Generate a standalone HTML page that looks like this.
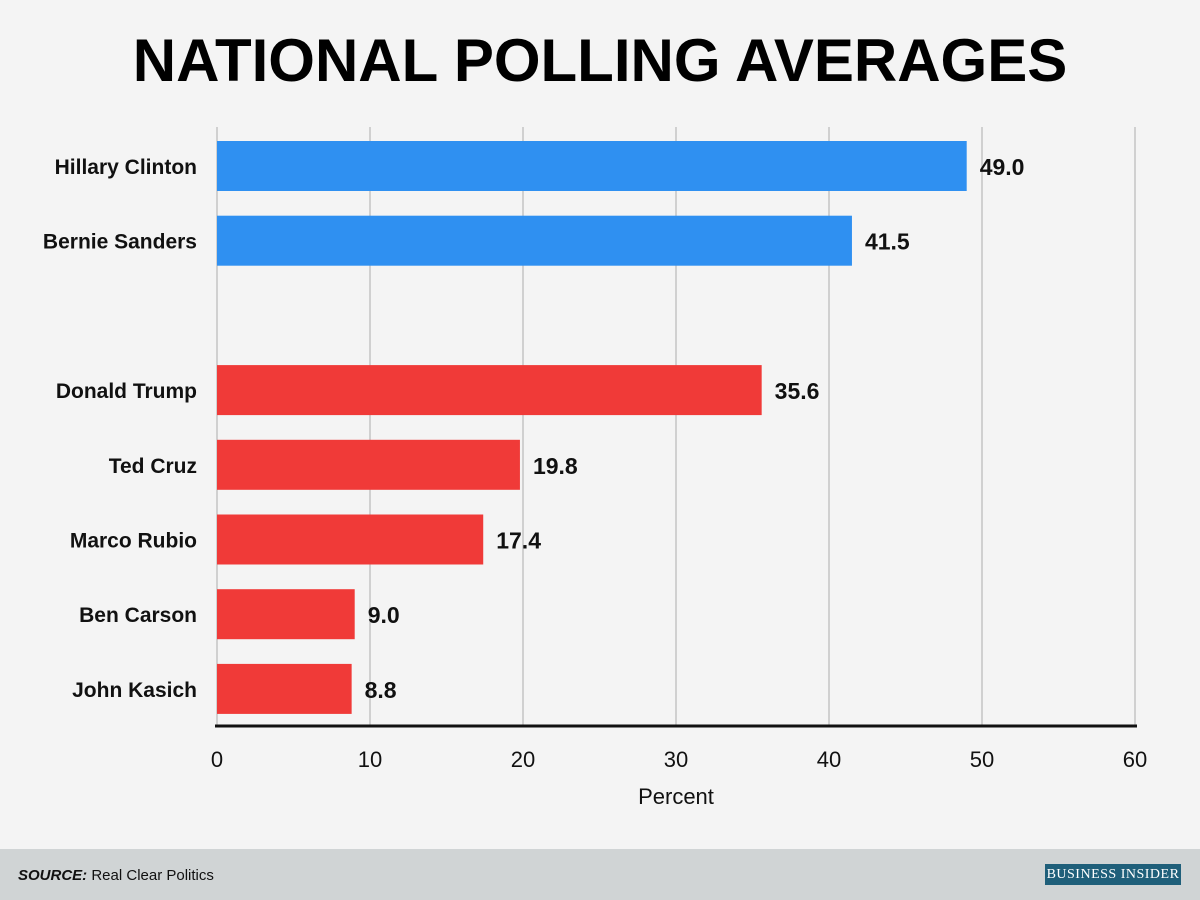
<!DOCTYPE html>
<html><head><meta charset="utf-8"><style>
body{margin:0;width:1200px;height:900px;background:#f4f4f4;font-family:"Liberation Sans",sans-serif;overflow:hidden;position:relative}
#title{position:absolute;top:26px;left:0;width:1200px;text-align:center;font-size:60px;font-weight:bold;color:#000}
#footer{position:absolute;left:0;top:849px;width:1200px;height:51px;background:#d0d4d5}
#src{position:absolute;left:18px;top:18px;font-size:15px;color:#111}
#bi{position:absolute;left:1045px;top:15px;width:136px;height:21px;background:#1f5f7a;color:#fff;font-family:"Liberation Serif",serif;font-size:14px;line-height:21px;text-align:center;letter-spacing:0.5px}
</style></head><body>
<div id="title">NATIONAL POLLING AVERAGES</div>
<svg id="chart" width="1200" height="849" style="position:absolute;left:0;top:0"></svg>
<div id="footer">
<div id="src"><b><i>SOURCE:</i></b> Real Clear Politics</div>
<div id="bi">BUSINESS INSIDER</div>
</div>
<script>
const categories=["Hillary Clinton","Bernie Sanders","Donald Trump","Ted Cruz","Marco Rubio","Ben Carson","John Kasich"];
const values=[49.0,41.5,35.6,19.8,17.4,9.0,8.8];
const parties=["dem","dem","rep","rep","rep","rep","rep"];
const ticks=[0,10,20,30,40,50,60];
const slots=[0,1,3,4,5,6,7];
const svg=document.getElementById('chart');
const NS='http://www.w3.org/2000/svg';
const x=v=>217+v*(1135-217)/60;
const yc=s=>166+s*74.7;
function mk(t,a){const e=document.createElementNS(NS,t);for(const k in a)e.setAttribute(k,a[k]);svg.appendChild(e);return e;}
ticks.forEach(t=>{
 if(t>0){const g=mk('line',{x1:x(t),x2:x(t),y1:127,y2:727,stroke:'#d0d0d0','stroke-width':2});
 
 }
 const l=mk('text',{x:x(t),y:767,'text-anchor':'middle','font-size':22,fill:'#111','font-family':'Liberation Sans, sans-serif'});
 l.textContent=t;
 
 
});
const yl=mk('line',{x1:217,x2:217,y1:127,y2:727,stroke:'#d0d0d0','stroke-width':2});


categories.forEach((c,i)=>{
 const cy=yc(slots[i]);
 const b=mk('rect',{x:217,y:cy-25,width:x(values[i])-217,height:50,fill:parties[i]==='dem'?'#2f90f1':'#f03a38'});
 
 
 const n=mk('text',{x:197,y:cy+8,'text-anchor':'end','font-size':21,'font-weight':'bold',fill:'#111','font-family':'Liberation Sans, sans-serif'});
 n.textContent=c;
 
 
 const v=mk('text',{x:x(values[i])+13,y:cy+9,'font-size':23,'font-weight':'bold',fill:'#111','font-family':'Liberation Sans, sans-serif'});
 v.textContent=values[i].toFixed(1);
 
 
});
const ax=mk('line',{x1:215,x2:1137,y1:726,y2:726,stroke:'#111','stroke-width':3});


const xt=mk('text',{x:676,y:804,'text-anchor':'middle','font-size':22,fill:'#111','font-family':'Liberation Sans, sans-serif'});
xt.textContent='Percent';


</script>
</body></html>
